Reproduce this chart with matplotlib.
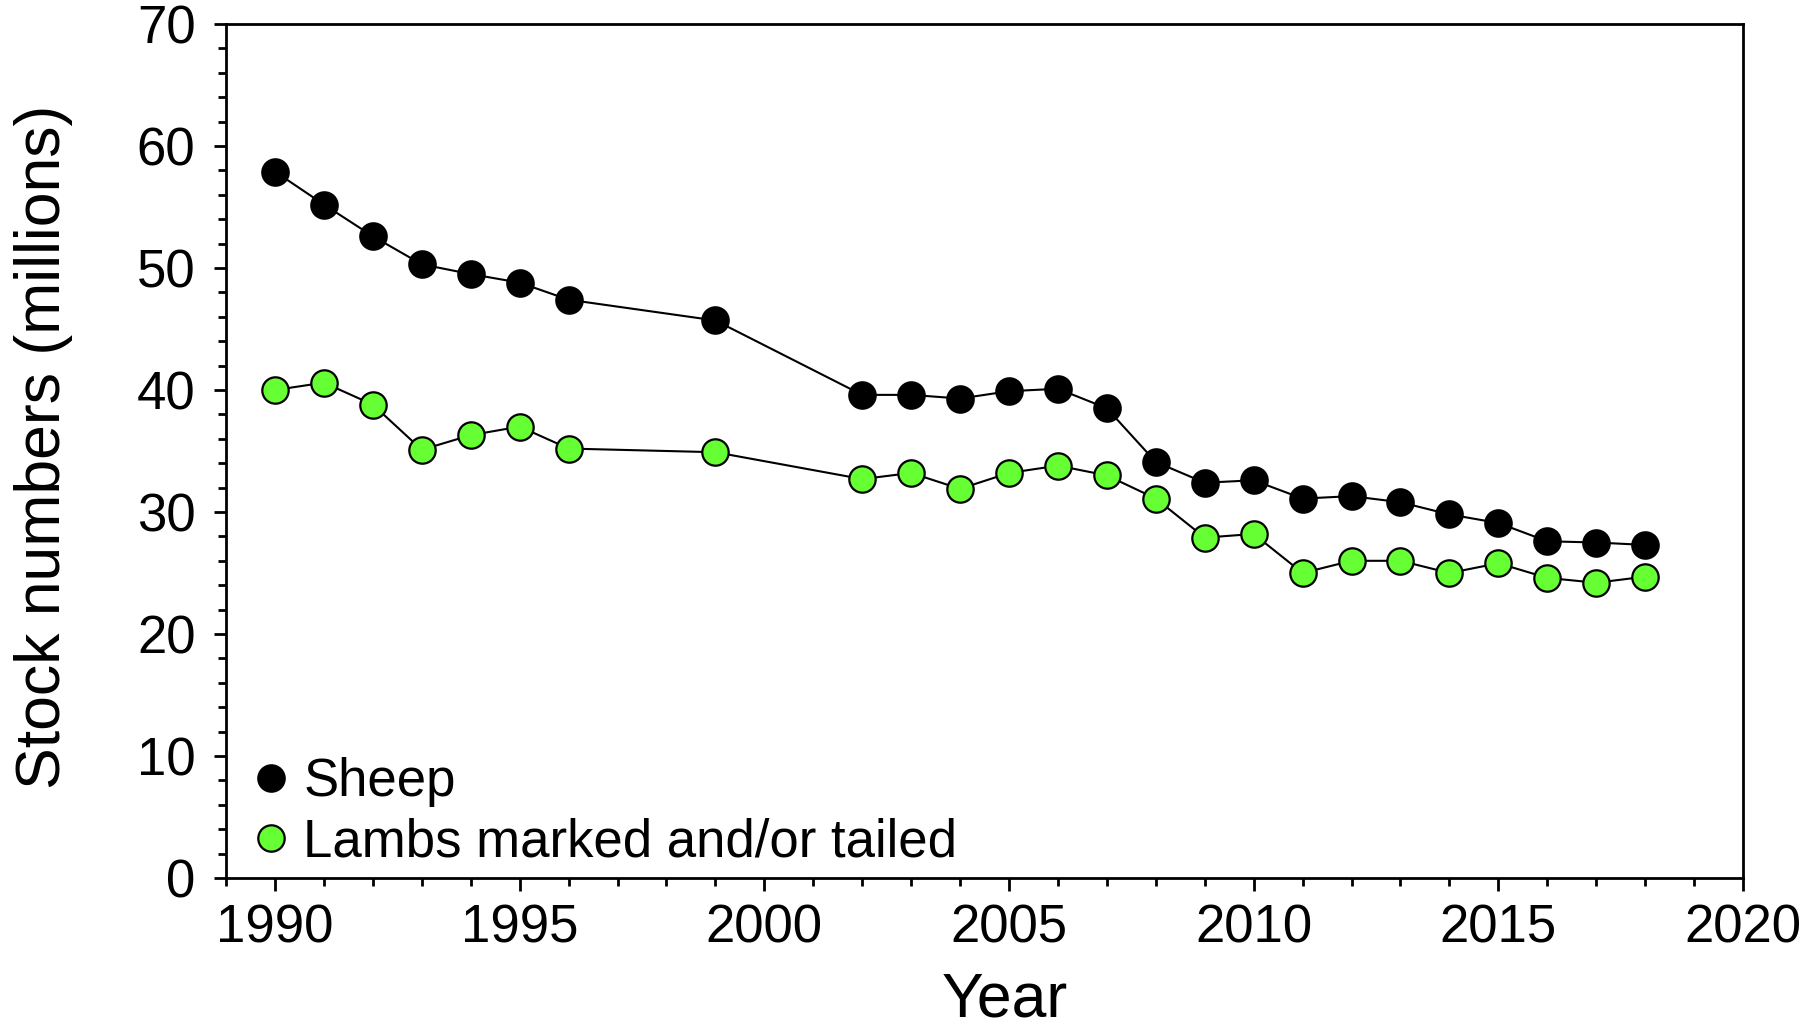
import matplotlib
matplotlib.use("Agg")
import matplotlib.pyplot as plt
from matplotlib.lines import Line2D
from matplotlib.ticker import MultipleLocator

plt.rcParams['font.family'] = ['Liberation Sans', 'DejaVu Sans']

# stock numbers, millions
years = [1990, 1991, 1992, 1993, 1994, 1995, 1996, 1999, 2002, 2003, 2004,
         2005, 2006, 2007, 2008, 2009, 2010, 2011, 2012, 2013, 2014, 2015,
         2016, 2017, 2018]
sheep = [57.9, 55.2, 52.6, 50.3, 49.5, 48.8, 47.4, 45.7, 39.6, 39.6, 39.3,
         39.9, 40.1, 38.5, 34.1, 32.4, 32.6, 31.1, 31.3, 30.8, 29.8, 29.1,
         27.6, 27.5, 27.3]
lambs = [40.0, 40.6, 38.8, 35.1, 36.3, 37.0, 35.2, 34.9, 32.7, 33.2, 31.9,
         33.2, 33.8, 33.0, 31.1, 27.9, 28.2, 25.0, 26.0, 26.0, 25.0, 25.8,
         24.6, 24.2, 24.7]

series_labels = ['Sheep', 'Lambs marked and/or tailed']
GREEN = '#66ff33'

fig = plt.figure(figsize=(18.2, 10.25), dpi=100)
ax = fig.add_axes([0.1242, 0.1434, 0.8335, 0.8332])

mk = dict(marker='o', markersize=19, markeredgewidth=1.6, markeredgecolor='black')
ax.plot(years, sheep, color='black', lw=1.5, markerfacecolor='black', **mk, zorder=3)
ax.plot(years, lambs, color='black', lw=1.5, markerfacecolor=GREEN, **mk, zorder=3)

ax.set_xlim(1989, 2020)
ax.set_ylim(0, 70)
ax.xaxis.set_major_locator(MultipleLocator(5))
ax.xaxis.set_minor_locator(MultipleLocator(1))
ax.yaxis.set_major_locator(MultipleLocator(10))
ax.yaxis.set_minor_locator(MultipleLocator(2))

for sp in ax.spines.values():
    sp.set_linewidth(2.0)
ax.tick_params(which='both', direction='out', width=2.0, top=False, right=False)
ax.tick_params(which='major', length=9, labelsize=38)
ax.tick_params(which='minor', length=6)
ax.tick_params(axis='y', which='major', pad=13)
ax.tick_params(axis='x', which='major', pad=9)

ax.set_xlabel('Year', fontsize=45)
ax.set_ylabel('Stock numbers (millions)', fontsize=45)
ax.xaxis.set_label_coords(0.5135, -0.108)
ax.yaxis.set_label_coords(-0.101, 0.505)

handles = [
    Line2D([], [], linestyle='none', markerfacecolor='black', **mk),
    Line2D([], [], linestyle='none', markerfacecolor=GREEN, **mk),
]
ax.legend(handles, series_labels, loc='lower left', bbox_to_anchor=(0.016, 0.012),
          frameon=False, fontsize=38, handlelength=0.8, handletextpad=0.2,
          labelspacing=0.2, borderpad=0, borderaxespad=0)

fig.savefig('out.png', dpi=100, facecolor='white')
